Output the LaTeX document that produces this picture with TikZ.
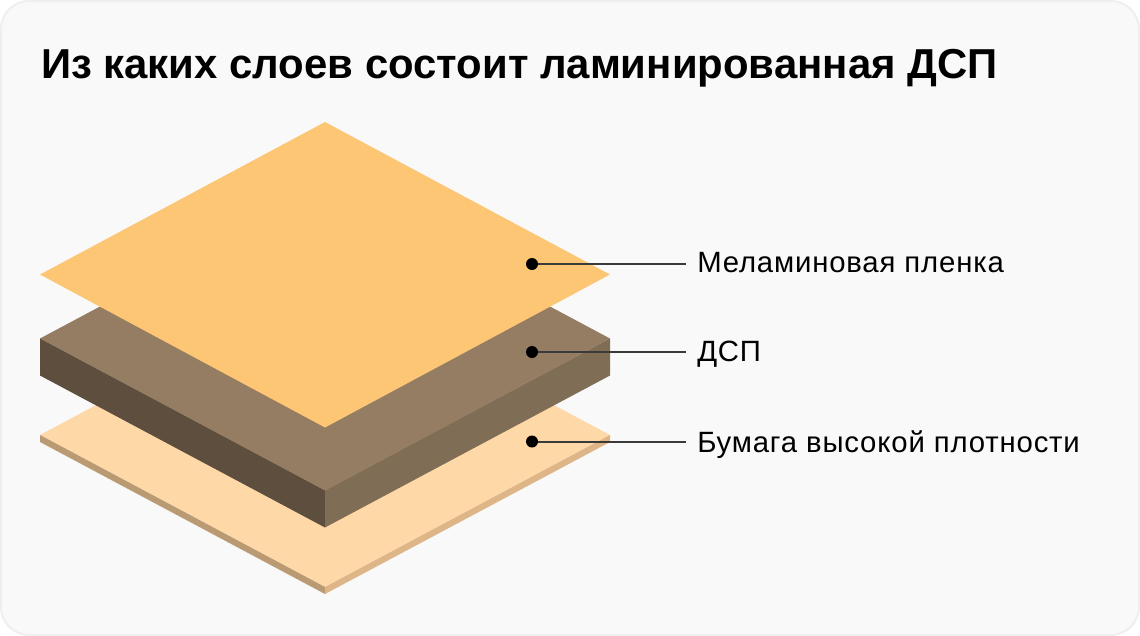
\documentclass[tikz,border=0pt]{standalone}
\usepackage{fontspec}
\setmainfont{Liberation Sans}
\newfontfamily\lblfont[LetterSpace=2.8]{Liberation Sans}
\definecolor{cardfill}{HTML}{F9F9F9}
\definecolor{cardline}{HTML}{EFEFEF}
\definecolor{filmtop}{HTML}{FDC675}
\definecolor{boardtop}{HTML}{957D64}
\definecolor{boardleft}{HTML}{5E4E3D}
\definecolor{boardright}{HTML}{806D55}
\definecolor{papertop}{HTML}{FFD8A8}
\definecolor{paperleft}{HTML}{B99A72}
\definecolor{paperright}{HTML}{DEB586}
\definecolor{leader}{HTML}{3A3A3A}
\tikzset{
    pin/.style = {circle, fill = black, inner sep = 0pt, minimum size = 9pt},
    lbl/.style = {anchor = base west, inner sep = 0pt, font = \lblfont\fontsize{22}{26}\selectfont},
    leadline/.style = {draw = leader, line width = 1.5pt}
}
\begin{document}
\begin{tikzpicture}[x = 0.75pt, y = -0.75pt]
    \useasboundingbox (0, 0) rectangle (1140, 636);
    \draw[fill = cardfill, draw = cardline, line width = 1.5pt, rounded corners = 21pt] (1, 1) rectangle (1139, 635);
    \node[anchor = base west, inner sep = 0pt, font = \fontsize{31.4}{38}\selectfont\bfseries] (title) at (41, 78) {Из каких слоев состоит ламинированная ДСП};
    % paper
    \fill[papertop] (40, 435) -- (325, 283) -- (610, 435) -- (325, 587) -- cycle;
    \fill[paperleft] (40, 435) -- (325, 587) -- (325, 594) -- (40, 442) -- cycle;
    \fill[paperright] (610, 435) -- (325, 587) -- (325, 594) -- (610, 442) -- cycle;
    % board
    \fill[boardtop] (40, 338.5) -- (325, 186.5) -- (610, 338.5) -- (325, 490.5) -- cycle;
    \fill[boardleft] (40, 338.5) -- (325, 490.5) -- (325, 527.5) -- (40, 375.5) -- cycle;
    \fill[boardright] (610, 338.5) -- (325, 490.5) -- (325, 527.5) -- (610, 375.5) -- cycle;
    % film
    \fill[filmtop] (40, 274.5) -- (325, 122) -- (610, 274.5) -- (325, 427.5) -- cycle;
    % labels
    \node[pin] (pinfilm) at (532, 264) {};
    \node[pin] (pinboard) at (532, 352) {};
    \node[pin] (pinpaper) at (532, 441.5) {};
    \node[lbl] (lblfilm) at (697, 272) {Меламиновая пленка};
    \node[lbl] (lblboard) at (697, 361.5) {ДСП};
    \node[lbl] (lblpaper) at (697, 452) {Бумага высокой плотности};
    \coordinate (endfilm) at (686, 264);
    \coordinate (endboard) at (686, 352);
    \coordinate (endpaper) at (686, 441.5);
    \draw[leadline] (pinfilm) -- (endfilm);
    \draw[leadline] (pinboard) -- (endboard);
    \draw[leadline] (pinpaper) -- (endpaper);
\end{tikzpicture}
\end{document}
